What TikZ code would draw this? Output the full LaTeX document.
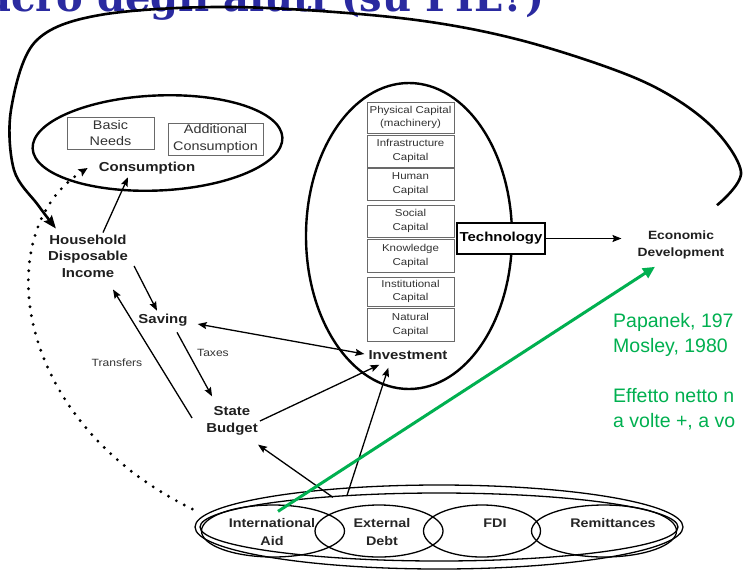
\documentclass[tikz,border=0pt]{standalone}
\usepackage{fontspec}
\setmainfont{Liberation Sans}
\newfontfamily\dg[FakeStretch=1.15]{Liberation Sans}
\newfontfamily\ttlfont{DejaVu Serif}
\usetikzlibrary{arrows.meta,shapes.geometric}
\definecolor{ppgreen}{RGB}{0,176,80}
\definecolor{ttlblue}{RGB}{42,42,160}
\definecolor{boxgray}{RGB}{105,105,105}
\begin{document}
\begin{tikzpicture}[x=1pt,y=-1pt,
  lbl/.style={font=\dg\bfseries\fontsize{13}{16.5}\selectfont, align=center, inner sep=1pt, text=black!88},
  btm/.style={font=\dg\bfseries\fontsize{12.5}{18}\selectfont, align=center, inner sep=1pt, text=black!85},
  sm/.style={font=\dg\fontsize{10.5}{12}\selectfont, inner sep=0pt, text=black!80},
  capbox/.style={draw=boxgray, line width=0.9pt, minimum width=87pt, align=center, inner sep=0pt, font=\dg\fontsize{10}{13.5}\selectfont, text=black!80},
  needbox/.style={draw=boxgray, line width=0.9pt, align=center, inner sep=0pt, font=\dg\fontsize{12.5}{16.5}\selectfont, text=black!80},
  oval/.style={draw, ellipse, line width=2.4pt, inner sep=0pt},
  thinoval/.style={draw, ellipse, line width=1.3pt, inner sep=0pt},
  arr/.style={-{Stealth[length=9pt,width=7pt,inset=1.5pt]}, line width=1.3pt},
  bigarr/.style={-{Stealth[length=13pt,width=10pt,inset=2pt]}, line width=2.6pt},
  dotarr/.style={line width=3.2pt, dash pattern=on 0pt off 9pt, line cap=round, -{Stealth[length=9pt,width=8pt,inset=1.5pt]}},
  garr/.style={ppgreen, line width=3pt, -{Triangle[length=12pt,width=11pt]}},
  gtxt/.style={font=\fontsize{19.5}{24}\selectfont, text=ppgreen, inner sep=0pt, anchor=base west}
]
\useasboundingbox (0,0) rectangle (743,571);
\clip (0,0) rectangle (743,571);
\fill[white] (0,0) rectangle (743,571);

% title (cut off at the top, as in the picture)
\node[anchor=base east, font=\ttlfont\bfseries\fontsize{40}{40}\selectfont, text=ttlblue, inner sep=0pt] (title) at (545,11) {macro degli aiuti (su PIL?)};

% consumption ellipse
\node[oval, rotate=2.5, minimum width=250pt, minimum height=95pt] (consE) at (157.5,143) {};
\node[needbox, minimum width=87pt, minimum height=32pt] (basic) at (110.5,133) {Basic\\Needs};
\node[needbox, minimum width=95pt, minimum height=32pt] (addc) at (215.5,139) {Additional\\Consumption};
\node[lbl] (cons) at (147,168) {Consumption};

% investment ellipse and capital boxes
\node[oval, minimum width=206pt, minimum height=306pt] (invE) at (409,236) {};
\node[capbox, minimum height=31pt] (c1) at (410.5,117.5) {Physical Capital\\(machinery)};
\node[capbox, minimum height=32pt] (c2) at (410.5,151) {Infrastructure\\Capital};
\node[capbox, minimum height=32pt] (c3) at (410.5,184) {Human\\Capital};
\node[capbox, minimum height=32pt] (c4) at (410.5,221) {Social\\Capital};
\node[capbox, minimum height=33pt] (c5) at (410.5,256) {Knowledge\\Capital};
\node[capbox, minimum height=29pt] (c6) at (410.5,291.5) {Institutional\\Capital};
\node[capbox, minimum height=33pt] (c7) at (410.5,325) {Natural\\Capital};
\node[lbl] (inv) at (408,355) {Investment};

\node[draw, line width=1.8pt, fill=white, minimum width=88pt, minimum height=31pt, inner sep=0pt, font=\dg\bfseries\fontsize{13}{15}\selectfont] (tech) at (501,238.5) {Technology};
\node[lbl, font=\dg\bfseries\fontsize{12}{17}\selectfont] (econ) at (681,244.5) {Economic\\Development};

% left side labels
\node[lbl] (hh) at (88,256) {Household\\Disposable\\Income};
\node[lbl] (sav) at (163,320) {Saving};
\node[lbl, font=\dg\bfseries\fontsize{13}{17}\selectfont] (sb) at (232,421) {State\\Budget};
\node[sm] (taxes) at (213,353) {Taxes};
\node[sm] (transf) at (117,363) {Transfers};

% bottom group
\node[thinoval, minimum width=488pt, minimum height=84pt] (grpA) at (439,527) {};
\node[thinoval, minimum width=478pt, minimum height=68pt] (grpB) at (439,527) {};
\node[thinoval, minimum width=143pt, minimum height=52pt] (aidE) at (273,531) {};
\node[thinoval, minimum width=128pt, minimum height=52pt] (debtE) at (379,531) {};
\node[thinoval, minimum width=117pt, minimum height=52pt] (fdiE) at (482,531) {};
\node[thinoval, minimum width=145pt, minimum height=52pt] (remE) at (604,531) {};
\node[btm] (aid) at (272,532) {International\\Aid};
\node[btm] (debt) at (382,532) {External\\Debt};
\node[btm] (fdi) at (495,523) {FDI};
\node[btm] (rem) at (613,523) {Remittances};

% connectors
\coordinate (loopA) at ([xshift=36pt,yshift=24pt]econ.north);
\coordinate (loopB) at ([xshift=9pt,yshift=5pt]hh.north west);
\draw[bigarr] plot[smooth, tension=0.55] coordinates {(loopA) (741,172) (708,123) (640,80) (520,40) (400,18) (233,7) (100,15) (35,42) (11,110) (14,170) (38,205) (loopB)};

\coordinate (dotS) at ([xshift=-2pt,yshift=18pt]grpA.west);
\draw[dotarr] (dotS) .. controls (10,420) and (-10,230) .. ([xshift=-10pt]cons.west);

\draw[arr] ([xshift=15pt,yshift=1pt]hh.north) -- ([xshift=-19pt,yshift=-2pt]cons.south);
\draw[arr] ([xshift=5pt,yshift=-10pt]hh.east) -- ([xshift=-6pt,yshift=2pt]sav.north);
\draw[arr, {Stealth[length=9pt,width=7pt,inset=1.5pt]}-{Stealth[length=9pt,width=7pt,inset=1.5pt]}] ([xshift=9pt,yshift=-4pt]sav.east) -- ([xshift=-3pt,yshift=1pt]inv.west);
\draw[arr] ([xshift=14pt,yshift=-5pt]sav.south) -- ([xshift=7pt,yshift=9pt]sb.north west);
\draw[arr] ([xshift=-13pt,yshift=3pt]sb.west) -- ([xshift=25pt,yshift=-11pt]hh.south);
\draw[arr] ([xshift=1pt,yshift=0pt]sb.east) -- ([xshift=12pt,yshift=-4pt]inv.south west);
\draw[arr] ([xshift=-32pt,yshift=9pt]debtE.north) -- ([xshift=21pt,yshift=-7pt]inv.south west);
\draw[arr] ([xshift=-46pt,yshift=7pt]debtE.north) -- ([xshift=26pt,yshift=-8pt]sb.south);
\draw[arr] (tech.east) -- ([xshift=-15pt,yshift=6pt]econ.west);

% green annotation
\draw[garr] ([xshift=5pt,yshift=-7pt]aidE.north) -- ([xshift=-26pt,yshift=-7pt]econ.south);
\node[gtxt] (g1) at (613,327) {Papanek, 197};
\node[gtxt] (g2) at (613,352) {Mosley, 1980};
\node[gtxt] (g3) at (613,402) {Effetto netto n};
\node[gtxt] (g4) at (613,427) {a volte +, a vo};
\end{tikzpicture}
\end{document}
